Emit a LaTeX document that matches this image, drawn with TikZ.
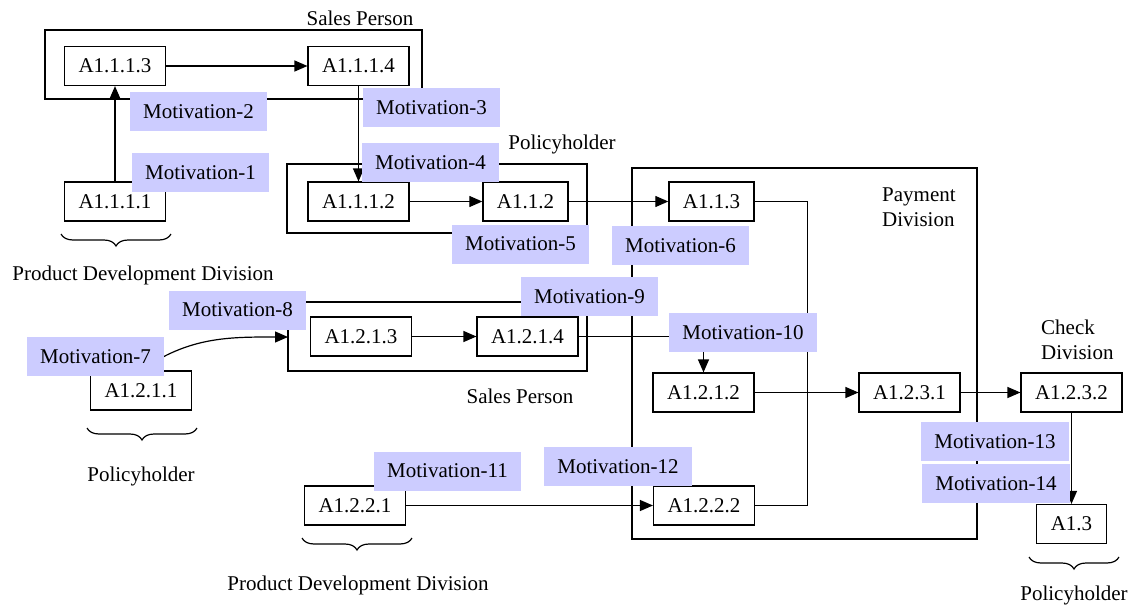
\documentclass[tikz,border=0pt]{standalone}
\usepackage{fontspec}
\setmainfont{Liberation Serif}
\usetikzlibrary{arrows.meta, decorations.pathreplacing}
\definecolor{motivblue}{RGB}{204,204,255}

\begin{document}
\begin{tikzpicture}[x=1pt, y=-1pt, font=\fontsize{21}{25}\selectfont,
	act/.style={draw, line width=1.2pt, minimum height=39pt, inner xsep=14pt, inner ysep=0pt},
	motiv/.style={fill=motivblue, minimum height=39pt, inner xsep=13.5pt, inner ysep=0pt},
	grp/.style={draw, line width=1.2pt},
	flow/.style={line width=1.2pt, -{Triangle[length=13pt, width=11pt]}},
	brc/.style={decorate, decoration={brace, mirror, amplitude=12pt}, line width=1.2pt}]
\useasboundingbox (0,0) rectangle (1136,605);
% groups
\draw[grp] (45,30) rectangle (422,99);
\draw[grp] (287,164) rectangle (587,233);
\draw[grp] (288,302) rectangle (587,371);
\draw[grp] (632,168) rectangle (977,539);
\coordinate (g3in) at (288,337);
\node (sales1) at (360,18) {Sales Person};
\node (holder1) at (562,144) {Policyholder};
\node (sales2) at (520,396) {Sales Person};
\node[align=left, anchor=west, inner xsep=0pt] (paydiv) at (882,207) {Payment\\Division};
\node[align=left, anchor=west, inner xsep=0pt] (chkdiv) at (1041,340) {Check\\Division};
% activities
\node[act] (A1113) at (115,66) {A1.1.1.3};
\node[act] (A1114) at (358.5,66) {A1.1.1.4};
\node[act] (A1111) at (115,201.5) {A1.1.1.1};
\node[act] (A1112) at (358.5,201.5) {A1.1.1.2};
\node[act] (A112) at (525.5,201.5) {A1.1.2};
\node[act] (A113) at (711.5,201.5) {A1.1.3};
\node[act] (A1213) at (361,336.5) {A1.2.1.3};
\node[act] (A1214) at (527.5,336.5) {A1.2.1.4};
\node[act] (A1211) at (141,390.5) {A1.2.1.1};
\node[act] (A1212) at (703.5,392.5) {A1.2.1.2};
\node[act] (A1231) at (909.5,392.5) {A1.2.3.1};
\node[act] (A1232) at (1071.5,392.5) {A1.2.3.2};
\node[act] (A1221) at (355,505.5) {A1.2.2.1};
\node[act] (A1222) at (704,505.5) {A1.2.2.2};
\node[act] (A13) at (1071.5,524) {A1.3};
% flows
\draw[flow] (A1113) -- (A1114);
\draw[flow] (A1111) -- (A1113);
\draw[flow] (A1114) -- (A1112);
\draw[flow] (A1112) -- (A112);
\draw[flow] (A112) -- (A113);
\draw[line width=1.2pt] (A113.east) -- ++(53,0) |- (A1222.east);
\draw[flow] (A1211.north) to[out=35, in=180] (g3in);
\draw[flow] (A1213) -- (A1214);
\draw[flow] (A1214) -| (A1212);
\draw[flow] (A1212) -- (A1231);
\draw[flow] (A1231) -- (A1232);
\draw[flow] (A1221) -- (A1222);
\draw[flow] (A1232) -- (A13);
% divisions
\draw[brc] (61,234) -- (171,234);
\node (pdd1) at (143,275) {Product Development Division};
\draw[brc] (87,428) -- (197,428);
\node (holder2) at (141,476) {Policyholder};
\draw[brc] (302,538) -- (412,538);
\node (pdd2) at (358,585) {Product Development Division};
\draw[brc] (1029,557) -- (1119,557);
\node (holder3) at (1074,595) {Policyholder};
% motivations
\foreach \n/\x/\y in {1/200.5/172.5, 2/198.5/111.5, 3/431.5/107.5, 4/430.5/162.5,
	5/520.5/244, 6/680.5/245.5, 7/95.5/356.5, 8/237.5/310, 9/589.5/296.5,
	10/743/332.5, 11/447.5/471, 12/618/466.5, 13/995/441.5, 14/996/483.5}
	\node[motiv] (M\n) at (\x,\y) {Motivation-\n};
\end{tikzpicture}
\end{document}
